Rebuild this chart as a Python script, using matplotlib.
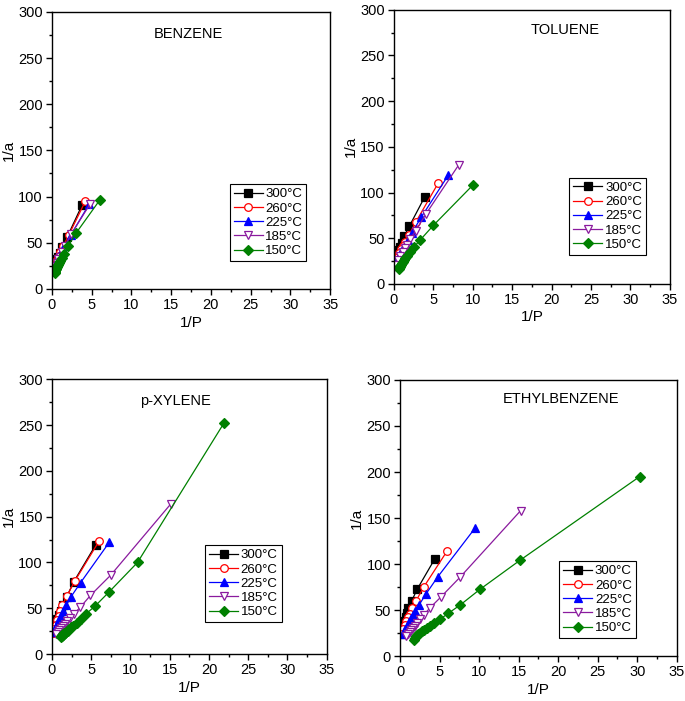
import matplotlib
matplotlib.use('Agg')
import matplotlib.pyplot as plt
from matplotlib.ticker import MultipleLocator

plt.rcParams['font.family'] = ['Liberation Sans', 'DejaVu Sans']

temps = ['300°C', '260°C', '225°C', '185°C', '150°C']

# BENZENE
bz_x300 = [3.8, 1.9, 1.27, 0.95, 0.76, 0.63, 0.5, 0.38, 0.25]
bz_y300 = [91, 56, 45, 39, 35, 32, 29, 26, 22]
bz_x260 = [4.2, 2.1, 1.4, 1.05, 0.84, 0.7, 0.55, 0.42, 0.28]
bz_y260 = [95, 58, 46, 40, 36, 33, 30, 27, 23]
bz_x225 = [4.7, 2.35, 1.57, 1.18, 0.94, 0.78, 0.6, 0.47, 0.3]
bz_y225 = [92, 58, 46, 40, 36, 33, 29, 26, 22]
bz_x185 = [4.8, 2.4, 1.6, 1.2, 0.96, 0.8, 0.62, 0.48, 0.32]
bz_y185 = [92, 59, 46, 40, 35, 32, 28, 25, 21]
bz_x150 = [6.0, 3.0, 2.0, 1.5, 1.2, 1.0, 0.86, 0.75, 0.67, 0.6, 0.55, 0.5, 0.46, 0.43, 0.4, 0.375, 0.35]
bz_y150 = [96, 60, 46, 38, 33, 30, 28, 26, 25, 24, 23, 22, 21, 20.5, 19.5, 18.5, 17]

# TOLUENE
tl_x300 = [3.9, 1.95, 1.3, 0.98, 0.72, 0.55, 0.38, 0.25, 0.12]
tl_y300 = [95, 63, 52, 45, 40, 37, 33, 27, 20]
tl_x260 = [5.6, 2.8, 1.87, 1.4, 1.12, 0.93, 0.7, 0.5, 0.3, 0.15]
tl_y260 = [110, 68, 53, 46, 42, 38, 34, 29, 25, 21]
tl_x225 = [6.9, 3.47, 2.3, 1.73, 1.39, 1.15, 0.9, 0.65, 0.4, 0.2]
tl_y225 = [119, 73, 56, 48, 43, 39, 35, 30, 26, 21]
tl_x185 = [8.2, 4.1, 2.75, 2.05, 1.64, 1.37, 1.1, 0.8, 0.55, 0.3]
tl_y185 = [130, 77, 58, 49, 43, 39, 35, 30, 26, 21]
tl_x150 = [10.0, 5.0, 3.33, 2.5, 2.0, 1.67, 1.43, 1.25, 1.11, 1.0, 0.91, 0.83, 0.77, 0.71, 0.67, 0.63]
tl_y150 = [108, 64, 48, 40, 35, 31, 28, 26, 24, 22.5, 21, 20, 19, 18, 17, 16]

# p-XYLENE
px_x300 = [5.56, 2.78, 1.85, 1.39, 1.11, 0.9, 0.7, 0.5, 0.3, 0.12]
px_y300 = [119, 79, 62, 53, 47, 43, 38, 34, 29, 24]
px_x260 = [5.98, 2.93, 1.87, 1.31, 1.05, 0.85, 0.65, 0.45, 0.25, 0.1]
px_y260 = [123, 80, 63, 53, 47, 42, 37, 32, 27, 23]
px_x225 = [7.3, 3.65, 2.38, 1.8, 1.45, 1.2, 0.95, 0.7, 0.45, 0.2]
px_y225 = [122, 78, 62, 53, 47, 42, 38, 33, 29, 24]
px_x185 = [15.15, 7.47, 4.9, 3.6, 2.8, 2.3, 1.95, 1.65, 1.4, 1.15, 0.95, 0.75, 0.5]
px_y185 = [164, 86, 64, 51, 44, 39, 36, 33, 31, 28.5, 26.5, 24.5, 22]
px_x150 = [21.9, 10.9, 7.3, 5.45, 4.35, 3.65, 3.13, 2.74, 2.43, 2.19, 1.99, 1.83, 1.68, 1.56, 1.46, 1.37, 1.29, 1.22, 1.15, 1.1]
px_y150 = [252, 100, 68, 52, 44, 38, 34, 31, 29, 27, 25.5, 24.5, 23.5, 22.5, 21.5, 21, 20.5, 20, 19.5, 19]

# ETHYLBENZENE
eb_x300 = [4.42, 2.19, 1.47, 1.05, 0.85, 0.7, 0.55, 0.4, 0.25, 0.13]
eb_y300 = [106, 73, 60, 52, 47, 43, 38, 34, 29, 24]
eb_x260 = [5.94, 2.99, 2.02, 1.47, 1.2, 1.0, 0.8, 0.6, 0.4, 0.2]
eb_y260 = [114, 75, 60, 52, 46, 42, 38, 34, 29, 24]
eb_x225 = [9.48, 4.76, 3.24, 2.44, 1.9, 1.6, 1.35, 1.1, 0.85, 0.6, 0.35]
eb_y225 = [139, 86, 67, 56, 49, 45, 41, 37, 33, 29, 24]
eb_x185 = [15.25, 7.62, 5.14, 3.79, 3.03, 2.55, 2.2, 1.9, 1.65, 1.4, 1.2, 1.0, 0.76]
eb_y185 = [158, 86, 64, 52.5, 45, 40, 36, 33, 30.5, 28, 26, 24, 21.5]
eb_x150 = [30.3, 15.15, 10.1, 7.6, 6.1, 5.05, 4.33, 3.79, 3.37, 3.03, 2.75, 2.53, 2.33, 2.16, 2.02, 1.89, 1.78]
eb_y150 = [195, 104, 72.5, 55.5, 46.5, 40, 36, 33, 30.5, 28.5, 27, 25.5, 24, 23, 21.5, 20, 18]

# marker style for each temperature: (color, marker, filled)
styles = [('black', 's', True), ('red', 'o', False), ('blue', '^', True),
          ('#8a1a9e', 'v', False), ('green', 'D', True)]


def draw_panel(ax, name, series, title_xy, legend_xy):
    for (xs, ys), label, (col, mk, filled) in zip(series, temps, styles):
        ax.plot(xs, ys, color=col, lw=0.9, marker=mk, ms=5.5 if mk != 'D' else 5,
                mfc=col if filled else 'white', mec=col, mew=0.9, label=label)
    ax.set_xlim(0, 35)
    ax.set_ylim(0, 300)
    ax.xaxis.set_major_locator(MultipleLocator(5))
    ax.xaxis.set_minor_locator(MultipleLocator(2.5))
    ax.yaxis.set_major_locator(MultipleLocator(50))
    ax.yaxis.set_minor_locator(MultipleLocator(25))
    ax.tick_params(which='major', direction='out', length=4, width=1,
                   labelsize=10.5, pad=2.5)
    ax.tick_params(which='minor', direction='out', length=2.5, width=1)
    for sp in ax.spines.values():
        sp.set_linewidth(1)
    ax.set_xlabel('1/P', fontsize=11)
    ax.set_ylabel('1/a', fontsize=11)
    ax.xaxis.set_label_coords(0.5, -0.097)
    ax.yaxis.set_label_coords(-0.13, 0.5)
    ax.text(title_xy[0], title_xy[1], name, transform=ax.transAxes,
            ha='center', va='center', fontsize=10.5)
    leg = ax.legend(loc='lower right', bbox_to_anchor=legend_xy, fontsize=9.5,
                    fancybox=False, edgecolor='black', framealpha=1,
                    handlelength=2.2, handletextpad=0.2, labelspacing=0.15,
                    borderpad=0.3, borderaxespad=0)
    leg.get_frame().set_linewidth(0.8)


fig = plt.figure(figsize=(6.85, 7.01), dpi=100)

ax1 = fig.add_axes([0.0759, 0.588, 0.406, 0.395])
ax2 = fig.add_axes([0.575, 0.595, 0.403, 0.391])
ax3 = fig.add_axes([0.0759, 0.067, 0.401, 0.392])
ax4 = fig.add_axes([0.584, 0.064, 0.404, 0.394])

draw_panel(ax1, 'BENZENE',
           [(bz_x300, bz_y300), (bz_x260, bz_y260), (bz_x225, bz_y225),
            (bz_x185, bz_y185), (bz_x150, bz_y150)],
           (0.49, 0.92), (0.914, 0.10))
draw_panel(ax2, 'TOLUENE',
           [(tl_x300, tl_y300), (tl_x260, tl_y260), (tl_x225, tl_y225),
            (tl_x185, tl_y185), (tl_x150, tl_y150)],
           (0.62, 0.927), (0.913, 0.106))
draw_panel(ax3, 'p-XYLENE',
           [(px_x300, px_y300), (px_x260, px_y260), (px_x225, px_y225),
            (px_x185, px_y185), (px_x150, px_y150)],
           (0.45, 0.92), (0.836, 0.116))
draw_panel(ax4, 'ETHYLBENZENE',
           [(eb_x300, eb_y300), (eb_x260, eb_y260), (eb_x225, eb_y225),
            (eb_x185, eb_y185), (eb_x150, eb_y150)],
           (0.58, 0.93), (0.852, 0.065))

fig.savefig('out.png', dpi=100)
